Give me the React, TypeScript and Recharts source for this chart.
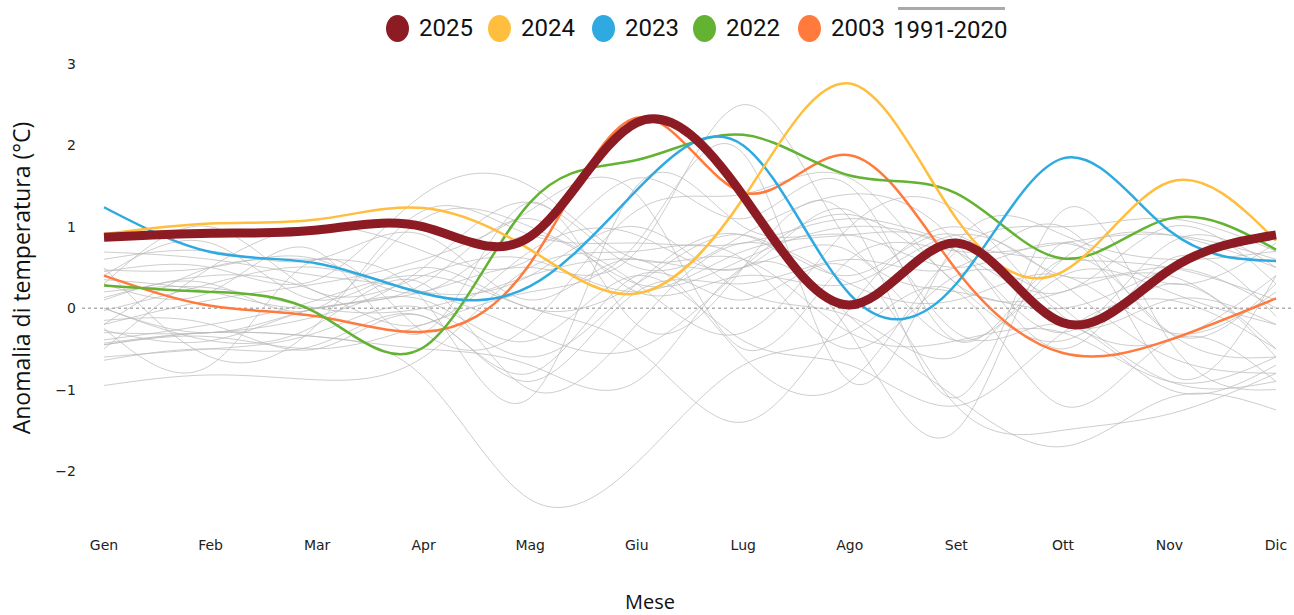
import React from 'react';
import { LineChart, Line, XAxis, YAxis, ReferenceLine, Label } from 'recharts';

const months = ['Gen', 'Feb', 'Mar', 'Apr', 'Mag', 'Giu', 'Lug', 'Ago', 'Set', 'Ott', 'Nov', 'Dic'];
const yTicks = [-2, -1, 0, 1, 2, 3];

const y2025 = [0.87, 0.92, 0.96, 1.0, 0.88, 2.28, 1.38, 0.04, 0.8, -0.18, 0.47, 0.9];
const y2024 = [0.91, 1.04, 1.09, 1.23, 0.72, 0.18, 1.35, 2.76, 1.1, 0.45, 1.55, 0.83];
const y2023 = [1.24, 0.69, 0.55, 0.18, 0.27, 1.45, 2.0, 0.17, 0.3, 1.84, 0.95, 0.58];
const y2022 = [0.28, 0.2, -0.06, -0.48, 1.3, 1.82, 2.13, 1.63, 1.41, 0.61, 1.1, 0.72];
const y2003 = [0.4, 0.03, -0.1, -0.29, 0.55, 2.34, 1.42, 1.88, 0.47, -0.55, -0.39, 0.12];

// 1991-2020 reference years
const g1991 = [-0.45, -0.3, -0.35, -0.85, -2.35, -1.9, -0.7, -0.3, 0.2, -1.2, -0.4, -0.9];
const g1992 = [0.69, 0.6, 0.4, 0.2, -0.3, -0.5, 0.5, 1.15, 0.3, -0.4, 0.3, -0.6];
const g1993 = [-0.64, -0.5, -0.45, -0.1, -0.8, 0.4, 0.1, 0.5, -1.2, -1.5, -1.3, -0.8];
const g1994 = [0.47, 0.5, 0.6, 0.2, 0.9, 0.3, 0.6, 1.0, 0.7, 0.2, 1.0, 0.3];
const g1995 = [-0.43, -0.3, -0.35, -0.5, -0.7, -0.9, 0.5, -0.3, -1.5, 0.8, -0.8, 0.4];
const g1996 = [0.35, 0.2, 0.0, 0.1, -0.4, 0.4, -0.4, -0.7, -1.2, -0.3, 0.1, -0.5];
const g1997 = [-0.39, -0.2, 0.1, 0.4, 0.0, -0.5, -1.4, 0.0, 1.0, 0.4, 0.5, 0.0];
const g1998 = [0.13, 0.4, 0.2, -0.2, 0.7, 0.9, 0.5, 1.2, -0.3, -0.2, -1.0, -0.7];
const g1999 = [-0.27, -0.4, 0.0, 0.3, 1.1, 0.2, 0.4, 0.3, 0.9, 0.3, -0.6, -0.8];
const g2000 = [-0.2, 0.1, 0.3, 0.6, 1.2, 1.4, -0.5, 0.6, 0.7, 0.8, 0.9, 0.6];
const g2001 = [0.3, 0.2, 0.7, -0.3, 1.3, -0.2, 0.5, 1.1, -1.1, 1.2, -0.4, -1.0];
const g2002 = [-0.03, 0.3, 0.5, 0.2, 0.4, 1.0, 0.2, -0.1, -0.6, 0.6, 0.9, 0.5];
const g2003 = [0.4, 0.03, -0.1, -0.29, 0.55, 2.34, 1.42, 1.88, 0.47, -0.55, -0.39, 0.12];
const g2004 = [-0.15, -0.2, -0.5, -0.1, -0.9, 0.2, 0.3, 0.6, 0.5, 1.0, -0.3, 0.3];
const g2005 = [-0.95, -0.82, -0.88, -0.6, 0.5, 0.7, 0.6, -0.5, 0.4, 0.0, -0.9, -0.9];
const g2006 = [-0.45, -0.35, -0.5, -0.2, 0.2, 0.8, 1.9, -0.9, 0.8, 0.9, 0.6, 0.7];
const g2007 = [0.45, 0.5, 0.35, 1.4, 1.5, 0.6, 0.6, -0.3, -0.4, -0.3, -0.9, -0.6];
const g2008 = [0.2, 0.25, 0.0, 0.0, 0.4, 0.6, 0.5, 0.7, -0.4, 0.4, 0.2, -0.2];
const g2009 = [-0.3, -0.3, -0.1, 0.5, 1.3, 0.5, 0.9, 1.4, 0.8, -0.5, 0.6, -0.1];
const g2010 = [-0.6, -0.5, -0.3, 0.0, -0.6, 0.3, 0.9, -0.1, -1.1, -1.7, -1.1, -1.25];
const g2011 = [0.1, 0.3, 0.0, 1.1, 1.0, 0.3, -0.3, 1.0, 1.2, -0.1, -0.4, 0.4];
const g2012 = [-0.25, -0.7, 0.6, -0.3, -0.2, 1.2, 1.4, 1.6, 0.3, 0.2, 0.4, -0.5];
const g2013 = [0.0, -0.4, -0.2, 0.3, -1.0, -0.2, 0.8, 0.3, 0.1, 0.4, -0.3, 0.2];
const g2014 = [0.6, 0.7, 0.6, 0.9, 0.1, 0.6, -0.6, -0.9, 0.7, 1.0, 1.1, 0.7];
const g2015 = [0.0, -0.3, 0.0, 0.2, 0.5, 0.7, 2.5, 0.8, 0.2, 0.0, 0.5, 0.9];
const g2016 = [0.4, 0.8, 0.1, 0.5, 0.0, 0.3, 0.9, 0.4, 0.9, -0.2, 0.1, -0.2];
const g2017 = [-0.5, 0.5, 1.0, 0.7, 0.6, 1.6, 1.1, 1.5, -0.4, 0.6, -0.3, -0.6];
const g2018 = [0.5, -0.6, -0.2, 1.2, 0.9, 0.8, 0.8, 1.1, 0.8, 0.6, 0.5, 0.1];
const g2019 = [-0.2, 0.5, 0.6, 0.1, -1.1, 1.5, 1.0, 0.9, 0.5, 0.8, 0.3, 0.8];
const g2020 = [0.3, 1.0, 0.2, 0.4, 0.6, 0.2, 0.7, 0.9, 0.7, -0.3, 0.8, 0.5];

const refYears: [string, number[]][] = [
  ['1991', g1991], ['1992', g1992], ['1993', g1993], ['1994', g1994], ['1995', g1995],
  ['1996', g1996], ['1997', g1997], ['1998', g1998], ['1999', g1999], ['2000', g2000],
  ['2001', g2001], ['2002', g2002], ['2003', g2003], ['2004', g2004], ['2005', g2005],
  ['2006', g2006], ['2007', g2007], ['2008', g2008], ['2009', g2009], ['2010', g2010],
  ['2011', g2011], ['2012', g2012], ['2013', g2013], ['2014', g2014], ['2015', g2015],
  ['2016', g2016], ['2017', g2017], ['2018', g2018], ['2019', g2019], ['2020', g2020],
];

const highlighted = [
  { key: '2025', values: y2025, color: '#8c1b24', width: 9 },
  { key: '2024', values: y2024, color: '#ffbe3d', width: 2.5 },
  { key: '2023', values: y2023, color: '#2eaae1', width: 2.5 },
  { key: '2022', values: y2022, color: '#63b232', width: 2.5 },
  { key: '2003', values: y2003, color: '#ff7a3c', width: 2.5 },
];

const data = months.map((m, i) => {
  const row: Record<string, string | number> = { m };
  refYears.forEach(([y, vals]) => {
    row['g' + y] = vals[i];
  });
  highlighted.forEach((h) => {
    row['y' + h.key] = h.values[i];
  });
  return row;
});

const tickFont = { fontFamily: 'DejaVu Sans, sans-serif', fontSize: 14, fill: '#222' };
const titleFont = "'Open Sans', sans-serif";
const legendFont = 'Roboto, sans-serif';

function TopLegend() {
  const items = [
    { label: '2025', color: '#8c1b24', left: 386 },
    { label: '2024', color: '#ffbe3d', left: 488 },
    { label: '2023', color: '#2eaae1', left: 592 },
    { label: '2022', color: '#63b232', left: 693 },
    { label: '2003', color: '#ff7a3c', left: 798 },
  ];
  return (
    <div style={{ position: 'absolute', left: 0, top: 0, width: 1294, height: 50 }}>
      {items.map((it) => (
        <div
          key={it.label}
          style={{ position: 'absolute', left: it.left, top: 14, display: 'flex', alignItems: 'center' }}
        >
          <span
            style={{ width: 23, height: 27, borderRadius: '50%', background: it.color, display: 'inline-block' }}
          />
          <span
            style={{
              marginLeft: 10,
              fontFamily: legendFont,
              fontSize: 24,
              color: '#111',
              lineHeight: '28px',
              whiteSpace: 'nowrap',
            }}
          >
            {it.label}
          </span>
        </div>
      ))}
      <div style={{ position: 'absolute', left: 893, top: 7, width: 120 }}>
        <div style={{ height: 3, background: '#aaa', marginLeft: 5, width: 107 }} />
        <div
          style={{
            fontFamily: legendFont,
            fontSize: 24,
            color: '#111',
            lineHeight: '28px',
            marginTop: 6,
            whiteSpace: 'nowrap',
          }}
        >
          1991-2020
        </div>
      </div>
    </div>
  );
}

export default function App() {
  return (
    <div style={{ position: 'absolute', left: 0, top: 0, width: 1294, height: 615, background: '#fff' }}>
      <TopLegend />
      <LineChart width={1294} height={615} data={data} margin={{ top: 64, right: 0, bottom: 53, left: 0 }}>
        <XAxis
          dataKey="m"
          axisLine={false}
          tickLine={false}
          tickSize={6}
          tickMargin={2}
          height={30}
          padding={{ left: 22, right: 18 }}
          tick={tickFont}
          interval={0}
        >
          <Label
            content={() => (
              <text x={650} y={609} textAnchor="middle" fontFamily={titleFont} fontSize={20} fill="#111">
                Mese
              </text>
            )}
          />
        </XAxis>
        <YAxis
          type="number"
          domain={[-2.75, 3]}
          ticks={yTicks}
          width={82}
          axisLine={false}
          tickLine={false}
          tickSize={0}
          tickMargin={6}
          tick={tickFont}
          tickFormatter={(v: number) => String(v).replace('-', '\u2212')}
        >
          <Label
            content={() => (
              <text
                x={30}
                y={278}
                textAnchor="middle"
                transform="rotate(-90 30 278)"
                fontFamily={titleFont}
                fontSize={23}
                fill="#111"
              >
                Anomalia di temperatura  (°C)
              </text>
            )}
          />
        </YAxis>
        <ReferenceLine y={0} stroke="#888" strokeDasharray="3 3" strokeWidth={1} />
        {refYears.map(([y]) => (
          <Line
            key={'g' + y}
            dataKey={'g' + y}
            type="natural"
            stroke="#b8b8b8"
            strokeOpacity={0.7}
            strokeWidth={1}
            dot={false}
            activeDot={false}
            isAnimationActive={false}
          />
        ))}
        {[...highlighted].reverse().map((h) => (
          <Line
            key={'y' + h.key}
            dataKey={'y' + h.key}
            type="natural"
            stroke={h.color}
            strokeWidth={h.width}
            dot={false}
            activeDot={false}
            isAnimationActive={false}
          />
        ))}
      </LineChart>
    </div>
  );
}
